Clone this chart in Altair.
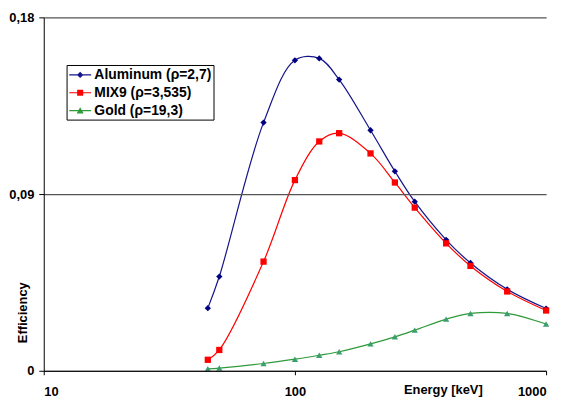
import altair as alt
import pandas as pd

energy = [45, 50, 75, 100, 125, 150, 200, 250, 300, 400, 500, 700, 1000]
aluminum = [0.0319, 0.0480, 0.1264, 0.1581, 0.1591, 0.1483, 0.1225, 0.1016, 0.0861, 0.0667, 0.0549, 0.0415, 0.0317]
mix9 = [0.0056, 0.0106, 0.0556, 0.0971, 0.1168, 0.1210, 0.1107, 0.0959, 0.0831, 0.0649, 0.0534, 0.0404, 0.0307]
gold = [0.0010, 0.0014, 0.0037, 0.0059, 0.0079, 0.0097, 0.0137, 0.0173, 0.0207, 0.0263, 0.0292, 0.0292, 0.0238]

series_names = ["Aluminum (ρ=2,7)", "MIX9 (ρ=3,535)", "Gold (ρ=19,3)"]
line_colors = ["#14148a", "#ff0000", "#2f9a3a"]
marker_colors = ["#000080", "#ff0000", "#3a9e6e"]
marker_shapes = ["diamond", "square", "triangle-up"]
x_ticks = [10, 100, 1000]
y_ticks = [0, 0.09, 0.18]

rows = []
for name, vals in zip(series_names, [aluminum, mix9, gold]):
    for e, v in zip(energy, vals):
        rows.append({"energy": e, "eff": v, "series": name})
df = pd.DataFrame(rows)

FONT = "Liberation Sans"

x_enc = alt.X(
    "energy:Q",
    scale=alt.Scale(type="log", domain=[10, 1000], nice=False),
    axis=alt.Axis(
        values=x_ticks, format="d", grid=False, tickSize=4, labelPadding=11,
        title="Energy [keV]", titleX=402, titleY=19, titleBaseline="middle",
        titleAlign="center", zindex=2,
    ),
)
y_enc = alt.Y(
    "eff:Q",
    scale=alt.Scale(domain=[0, 0.18], nice=False),
    axis=alt.Axis(
        values=y_ticks, grid=True, gridColor="#555555", gridWidth=1.3,
        tickSize=5, labelPadding=5,
        labelExpr="datum.value == 0 ? '0' : replace(format(datum.value, '.2f'), '.', ',')",
        title="Efficiency", titleX=-21, titleY=297, titleBaseline="middle",
        titleAlign="center", titleAngle=-90, zindex=1,
    ),
)

lines = alt.Chart(df).mark_line(interpolate="catmull-rom", strokeWidth=1.2).encode(
    x=x_enc, y=y_enc,
    color=alt.Color("series:N", scale=alt.Scale(domain=series_names, range=line_colors), legend=None),
    detail="series:N",
)

points = alt.Chart(df).mark_point(filled=True, opacity=1, size=40).encode(
    x="energy:Q", y="eff:Q",
    color=alt.Color("series:N", scale=alt.Scale(domain=series_names, range=marker_colors), legend=None),
    shape=alt.Shape("series:N", scale=alt.Scale(domain=series_names, range=marker_shapes), legend=None),
)

line_part = "M-0.91,-0.07H1.84V0.07H-0.91Z"
legend_paths = [
    line_part + " M0.46,-0.4L0.86,0L0.46,0.4L0.06,0Z",
    line_part + " M0.08,-0.38H0.84V0.38H0.08Z",
    line_part + " M0.46,-0.42L0.9,0.36L0.02,0.36Z",
]

leg = alt.Legend(
    title=None, orient="none", legendX=23, legendY=48,
    strokeColor="black", fillColor="white", padding=2, rowPadding=3,
    symbolSize=256, symbolStrokeWidth=0, symbolOpacity=1, labelOffset=10,
    labelFont=FONT, labelFontSize=14, labelFontWeight="bold", labelColor="black",
    labelLimit=300,
)

legend_layer = alt.Chart(df).transform_filter("false").mark_point(filled=True, size=256).encode(
    x="energy:Q", y="eff:Q",
    color=alt.Color("series:N", scale=alt.Scale(domain=series_names, range=line_colors), legend=leg),
    shape=alt.Shape("series:N", scale=alt.Scale(domain=series_names, range=legend_paths), legend=leg),
)

chart = alt.layer(lines, points, legend_layer).resolve_scale(
    color="independent", shape="independent"
).properties(
    width=506, height=356,
    padding={"left": 36, "top": 8, "right": 13, "bottom": 26},
    autosize=alt.AutoSizeParams(type="none"),
    background="white",
).configure_view(strokeWidth=0).configure_axis(
    labelFont=FONT, labelFontSize=13, labelFontWeight="bold", labelColor="black",
    titleFont=FONT, titleFontSize=13, titleFontWeight="bold", titleColor="black",
    domainColor="black", tickColor="black", domainWidth=1, tickWidth=1,
)

chart.save("out.html", embed_options={"renderer": "svg", "actions": False})
